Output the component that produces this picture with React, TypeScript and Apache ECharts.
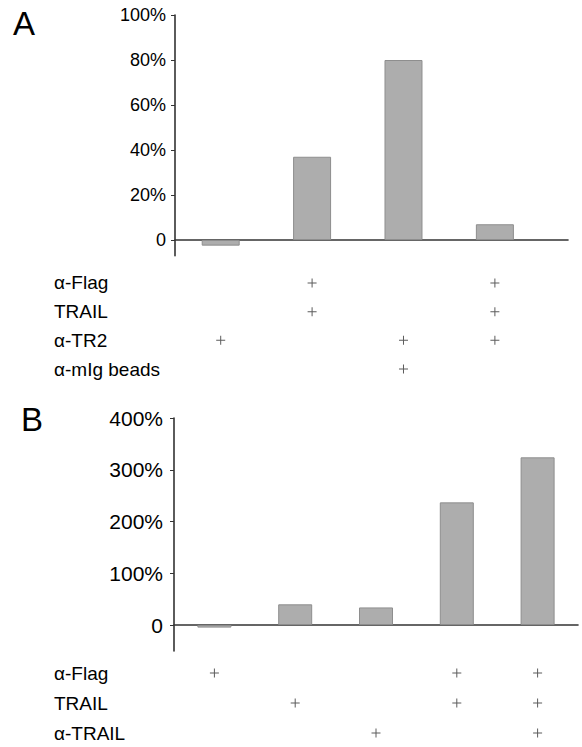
import React, { useEffect, useRef } from "react";
import * as echarts from "echarts";

// Panel A data
const categoriesA = ["α-TR2", "α-Flag+TRAIL", "α-TR2+α-mIg beads", "α-Flag+TRAIL+α-TR2"];
const valuesA = [-2.5, 37, 80, 7];
const ticksA = [0, 20, 40, 60, 80, 100];
const rowLabelsA = ["α-Flag", "TRAIL", "α-TR2", "α-mIg beads"];
const plusA = [
  [0, 1, 0, 1],
  [0, 1, 0, 1],
  [1, 0, 1, 1],
  [0, 0, 1, 0],
];

// Panel B data
const categoriesB = ["α-Flag", "TRAIL", "α-TRAIL", "α-Flag+TRAIL", "α-Flag+TRAIL+α-TRAIL"];
const valuesB = [-5, 40, 34, 237, 324];
const ticksB = [0, 100, 200, 300, 400];
const rowLabelsB = ["α-Flag", "TRAIL", "α-TRAIL"];
const plusB = [
  [1, 0, 0, 1, 1],
  [0, 1, 0, 1, 1],
  [0, 0, 1, 0, 1],
];

const FONT = "'Liberation Sans', Arial, sans-serif";
const PLUS = "path://M4,0h1v9h-1zM0,4h9v1h-9z";

function plusData(matrix: number[][]) {
  const out: number[][] = [];
  matrix.forEach((row, r) =>
    row.forEach((v, c) => {
      if (v) out.push([c + 0.5, r]);
    })
  );
  return out;
}

export default function App() {
  const ref = useRef<HTMLDivElement>(null);
  useEffect(() => {
    document.body.style.margin = "0";
    const chart = echarts.init(ref.current!, null, { renderer: "svg" });
    const fmt = (v: number) => (v === 0 ? "0" : v + "%");
    const hiddenX = {
      type: "value" as const,
      axisLabel: { show: false },
      axisTick: { show: false },
      splitLine: { show: false },
    };
    const option: any = {
      animation: false,
      backgroundColor: "#fff",
      textStyle: { fontFamily: FONT },
      title: [
        { text: "A", left: 8, top: 2, textStyle: { fontSize: 33, fontWeight: "normal", color: "#000", fontFamily: FONT } },
        { text: "B", left: 16, top: 398, textStyle: { fontSize: 33, fontWeight: "normal", color: "#000", fontFamily: FONT } },
      ],
      grid: [
        { left: 175, top: 15, width: 393, height: 240.75, outerBoundsMode: "none" },
        { left: 175, top: 268.6, width: 393, height: 114.8, outerBoundsMode: "none" },
        { left: 174, top: 418, width: 404, height: 232.9, outerBoundsMode: "none" },
        { left: 174, top: 658, width: 404, height: 90, outerBoundsMode: "none" },
      ],
      xAxis: [
        { ...hiddenX, gridIndex: 0, min: 0, max: 4.3, axisLine: { show: true, onZero: true, lineStyle: { color: "#333", width: 1.6 } } },
        { ...hiddenX, gridIndex: 1, min: 0, max: 4.3, axisLine: { show: false } },
        { ...hiddenX, gridIndex: 2, min: 0, max: 5, axisLine: { show: true, onZero: true, lineStyle: { color: "#333", width: 1.6 } } },
        { ...hiddenX, gridIndex: 3, min: 0, max: 5, axisLine: { show: false } },
      ],
      yAxis: [
        {
          gridIndex: 0,
          type: "value",
          min: -7,
          max: 100,
          splitLine: { show: false },
          axisLine: { show: true, onZero: false, lineStyle: { color: "#333", width: 1.6 } },
          axisTick: { show: true, length: 4, customValues: ticksA, lineStyle: { color: "#333" } },
          axisLabel: { customValues: ticksA, formatter: fmt, fontSize: 18, color: "#000", margin: 9, fontFamily: FONT },
        },
        {
          gridIndex: 1,
          type: "category",
          inverse: true,
          data: rowLabelsA,
          axisLine: { show: false },
          axisTick: { show: false },
          splitLine: { show: false },
          axisLabel: { align: "left", margin: 121, fontSize: 19, color: "#000", fontFamily: FONT },
        },
        {
          gridIndex: 2,
          type: "value",
          min: -50,
          max: 400,
          splitLine: { show: false },
          axisLine: { show: true, onZero: false, lineStyle: { color: "#333", width: 1.6 } },
          axisTick: { show: true, length: 4, customValues: ticksB, lineStyle: { color: "#333" } },
          axisLabel: { customValues: ticksB, formatter: fmt, fontSize: 21, color: "#000", margin: 11, fontFamily: FONT },
        },
        {
          gridIndex: 3,
          type: "category",
          inverse: true,
          data: rowLabelsB,
          axisLine: { show: false },
          axisTick: { show: false },
          splitLine: { show: false },
          axisLabel: { align: "left", margin: 120, fontSize: 19, color: "#000", fontFamily: FONT },
        },
      ],
      series: [
        {
          type: "bar",
          xAxisIndex: 0,
          yAxisIndex: 0,
          barWidth: 38,
          data: valuesA.map((v, i) => ({ value: [i + 0.5, v], name: categoriesA[i] })),
          itemStyle: { color: "#adadad", borderColor: "#8e8e8e", borderWidth: 1 },
        },
        {
          type: "scatter",
          xAxisIndex: 1,
          yAxisIndex: 1,
          symbol: PLUS,
          symbolSize: 9,
          itemStyle: { color: "#333" },
          data: plusData(plusA),
        },
        {
          type: "bar",
          xAxisIndex: 2,
          yAxisIndex: 2,
          barWidth: 34,
          data: valuesB.map((v, i) => ({ value: [i + 0.5, v], name: categoriesB[i] })),
          itemStyle: { color: "#adadad", borderColor: "#8e8e8e", borderWidth: 1 },
        },
        {
          type: "scatter",
          xAxisIndex: 3,
          yAxisIndex: 3,
          symbol: PLUS,
          symbolSize: 9,
          itemStyle: { color: "#333" },
          data: plusData(plusB),
        },
      ],
    };
    chart.setOption(option);
    return () => chart.dispose();
  }, []);
  return <div ref={ref} style={{ width: 582, height: 747 }} />;
}
